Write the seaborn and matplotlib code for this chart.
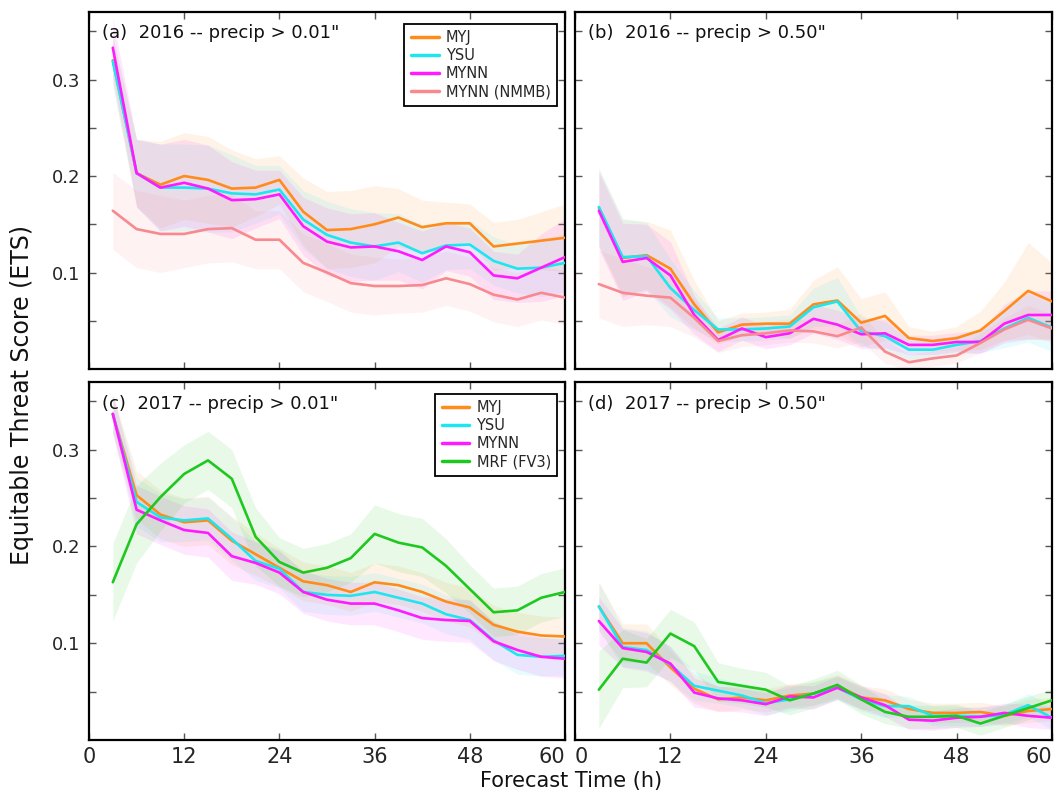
import numpy as np
import pandas as pd
import matplotlib
matplotlib.use("Agg")
import matplotlib.pyplot as plt
import seaborn as sns

# Forecast hours (every 3 h out to 60 h)
hours = list(range(3, 61, 3))

# ---- (a) 2016, precip > 0.01" ----
a_myj  = [0.320, 0.203, 0.191, 0.200, 0.196, 0.187, 0.188, 0.196, 0.163, 0.144,
          0.145, 0.150, 0.157, 0.147, 0.151, 0.151, 0.127, 0.130, 0.133, 0.136]
a_ysu  = [0.319, 0.203, 0.188, 0.188, 0.187, 0.182, 0.181, 0.186, 0.155, 0.139,
          0.131, 0.127, 0.131, 0.120, 0.128, 0.129, 0.112, 0.104, 0.105, 0.110]
a_mynn = [0.333, 0.203, 0.188, 0.193, 0.187, 0.175, 0.176, 0.181, 0.148, 0.132,
          0.126, 0.127, 0.122, 0.113, 0.127, 0.121, 0.097, 0.094, 0.105, 0.116]
a_nmmb = [0.164, 0.145, 0.140, 0.140, 0.145, 0.146, 0.134, 0.134, 0.110, 0.100,
          0.089, 0.086, 0.086, 0.087, 0.094, 0.088, 0.077, 0.072, 0.079, 0.074]
# spread (half-width of shaded range)
a_myj_sd  = [0.025, 0.035, 0.045, 0.045, 0.045, 0.040, 0.030, 0.025, 0.035, 0.040,
             0.040, 0.040, 0.030, 0.028, 0.022, 0.020, 0.025, 0.025, 0.030, 0.035]
a_ysu_sd  = [0.025, 0.035, 0.045, 0.045, 0.045, 0.040, 0.030, 0.025, 0.030, 0.035,
             0.035, 0.035, 0.030, 0.030, 0.025, 0.025, 0.025, 0.025, 0.030, 0.030]
a_mynn_sd = [0.030, 0.035, 0.045, 0.045, 0.045, 0.040, 0.030, 0.025, 0.030, 0.035,
             0.035, 0.035, 0.030, 0.030, 0.025, 0.025, 0.025, 0.025, 0.035, 0.040]
a_nmmb_sd = [0.040, 0.040, 0.040, 0.035, 0.035, 0.035, 0.030, 0.030, 0.030, 0.030,
             0.030, 0.030, 0.028, 0.028, 0.028, 0.028, 0.028, 0.028, 0.028, 0.028]

# ---- (b) 2016, precip > 0.50" ----
b_myj  = [0.167, 0.115, 0.118, 0.104, 0.067, 0.038, 0.046, 0.047, 0.047, 0.067,
          0.071, 0.048, 0.055, 0.032, 0.029, 0.032, 0.040, 0.060, 0.081, 0.070]
b_ysu  = [0.168, 0.116, 0.117, 0.084, 0.061, 0.041, 0.041, 0.042, 0.044, 0.064,
          0.070, 0.039, 0.034, 0.020, 0.020, 0.025, 0.029, 0.042, 0.053, 0.043]
b_mynn = [0.164, 0.111, 0.115, 0.097, 0.056, 0.030, 0.042, 0.033, 0.037, 0.052,
          0.046, 0.036, 0.037, 0.025, 0.025, 0.028, 0.028, 0.047, 0.056, 0.056]
b_nmmb = [0.088, 0.079, 0.076, 0.074, 0.053, 0.029, 0.035, 0.037, 0.040, 0.039,
          0.034, 0.043, 0.018, 0.007, 0.011, 0.014, 0.027, 0.041, 0.051, 0.042]
b_myj_sd  = [0.040, 0.040, 0.035, 0.040, 0.025, 0.012, 0.012, 0.012, 0.015, 0.025,
             0.035, 0.025, 0.025, 0.012, 0.010, 0.012, 0.020, 0.030, 0.050, 0.040]
b_ysu_sd  = [0.040, 0.040, 0.035, 0.030, 0.020, 0.012, 0.012, 0.012, 0.012, 0.020,
             0.025, 0.015, 0.015, 0.010, 0.010, 0.010, 0.012, 0.020, 0.025, 0.025]
b_mynn_sd = [0.040, 0.040, 0.035, 0.035, 0.020, 0.012, 0.012, 0.012, 0.012, 0.015,
             0.015, 0.015, 0.015, 0.010, 0.010, 0.010, 0.012, 0.020, 0.025, 0.025]
b_nmmb_sd = [0.035, 0.035, 0.030, 0.030, 0.020, 0.012, 0.012, 0.012, 0.012, 0.012,
             0.012, 0.015, 0.012, 0.008, 0.008, 0.008, 0.010, 0.012, 0.015, 0.015]

# ---- (c) 2017, precip > 0.01" ----
c_myj  = [0.337, 0.253, 0.233, 0.225, 0.227, 0.206, 0.192, 0.178, 0.164, 0.160,
          0.153, 0.163, 0.160, 0.153, 0.143, 0.137, 0.119, 0.112, 0.108, 0.107]
c_ysu  = [0.337, 0.246, 0.230, 0.227, 0.229, 0.208, 0.185, 0.177, 0.153, 0.150,
          0.149, 0.153, 0.147, 0.141, 0.130, 0.124, 0.103, 0.088, 0.086, 0.087]
c_mynn = [0.337, 0.238, 0.227, 0.217, 0.214, 0.190, 0.183, 0.173, 0.153, 0.145,
          0.141, 0.141, 0.134, 0.126, 0.124, 0.123, 0.102, 0.093, 0.086, 0.084]
c_mrf  = [0.163, 0.223, 0.251, 0.275, 0.289, 0.270, 0.210, 0.184, 0.173, 0.178,
          0.188, 0.213, 0.204, 0.199, 0.180, 0.156, 0.132, 0.134, 0.147, 0.153]
c_myj_sd  = [0.020, 0.025, 0.025, 0.025, 0.025, 0.025, 0.022, 0.020, 0.020, 0.020,
             0.020, 0.020, 0.020, 0.020, 0.020, 0.020, 0.020, 0.020, 0.020, 0.020]
c_ysu_sd  = [0.020, 0.025, 0.025, 0.022, 0.022, 0.022, 0.020, 0.020, 0.020, 0.020,
             0.020, 0.020, 0.020, 0.020, 0.020, 0.020, 0.020, 0.020, 0.020, 0.020]
c_mynn_sd = [0.020, 0.025, 0.025, 0.025, 0.025, 0.025, 0.022, 0.022, 0.022, 0.022,
             0.022, 0.022, 0.022, 0.022, 0.022, 0.022, 0.020, 0.020, 0.020, 0.020]
c_mrf_sd  = [0.040, 0.040, 0.035, 0.030, 0.030, 0.030, 0.030, 0.025, 0.025, 0.025,
             0.025, 0.030, 0.030, 0.030, 0.028, 0.025, 0.025, 0.025, 0.025, 0.025]

# ---- (d) 2017, precip > 0.50" ----
d_myj  = [0.138, 0.100, 0.100, 0.075, 0.053, 0.042, 0.044, 0.041, 0.046, 0.048,
          0.056, 0.044, 0.041, 0.032, 0.028, 0.028, 0.029, 0.025, 0.030, 0.032]
d_ysu  = [0.138, 0.096, 0.093, 0.078, 0.056, 0.051, 0.046, 0.038, 0.042, 0.048,
          0.054, 0.042, 0.035, 0.035, 0.025, 0.025, 0.024, 0.026, 0.036, 0.023]
d_mynn = [0.123, 0.095, 0.091, 0.079, 0.049, 0.043, 0.041, 0.037, 0.045, 0.044,
          0.054, 0.044, 0.036, 0.021, 0.020, 0.023, 0.024, 0.028, 0.025, 0.023]
d_mrf  = [0.052, 0.084, 0.080, 0.110, 0.097, 0.060, 0.056, 0.052, 0.041, 0.048,
          0.057, 0.042, 0.029, 0.024, 0.024, 0.025, 0.017, 0.025, 0.033, 0.041]
d_myj_sd  = [0.025, 0.020, 0.020, 0.018, 0.015, 0.013, 0.012, 0.012, 0.012, 0.012,
             0.012, 0.012, 0.012, 0.010, 0.010, 0.010, 0.010, 0.010, 0.012, 0.012]
d_ysu_sd  = [0.025, 0.020, 0.020, 0.018, 0.015, 0.013, 0.012, 0.012, 0.012, 0.012,
             0.012, 0.012, 0.012, 0.010, 0.010, 0.010, 0.010, 0.010, 0.012, 0.012]
d_mynn_sd = [0.025, 0.020, 0.020, 0.018, 0.015, 0.013, 0.012, 0.012, 0.012, 0.012,
             0.012, 0.012, 0.012, 0.010, 0.010, 0.010, 0.010, 0.010, 0.012, 0.012]
d_mrf_sd  = [0.040, 0.030, 0.025, 0.025, 0.025, 0.020, 0.018, 0.018, 0.015, 0.015,
             0.015, 0.015, 0.012, 0.012, 0.012, 0.012, 0.012, 0.012, 0.012, 0.012]

panel_titles = ['(a)  2016 -- precip > 0.01"', '(b)  2016 -- precip > 0.50"',
                '(c)  2017 -- precip > 0.01"', '(d)  2017 -- precip > 0.50"']
names_2016 = ["MYJ", "YSU", "MYNN", "MYNN (NMMB)"]
names_2017 = ["MYJ", "YSU", "MYNN", "MRF (FV3)"]
x_ticks = [0, 12, 24, 36, 48, 60]
y_ticks = [0.05, 0.10, 0.15, 0.20, 0.25, 0.30, 0.35]
y_ticklabels = ["", "0.1", "", "0.2", "", "0.3", ""]

palette = {
    "MYJ": "#ff8c1a",
    "YSU": "#1ee6ee",
    "MYNN": "#ff1aff",
    "MYNN (NMMB)": "#f7898f",
    "MRF (FV3)": "#1ec81e",
}

panels = [
    dict(names=names_2016, vals=[a_myj, a_ysu, a_mynn, a_nmmb],
         sds=[a_myj_sd, a_ysu_sd, a_mynn_sd, a_nmmb_sd]),
    dict(names=names_2016, vals=[b_myj, b_ysu, b_mynn, b_nmmb],
         sds=[b_myj_sd, b_ysu_sd, b_mynn_sd, b_nmmb_sd]),
    dict(names=names_2017, vals=[c_myj, c_ysu, c_mynn, c_mrf],
         sds=[c_myj_sd, c_ysu_sd, c_mynn_sd, c_mrf_sd]),
    dict(names=names_2017, vals=[d_myj, d_ysu, d_mynn, d_mrf],
         sds=[d_myj_sd, d_ysu_sd, d_mynn_sd, d_mrf_sd]),
]

sns.set_style("ticks")
plt.rcParams["font.family"] = ["DejaVu Sans"]

W, H = 1054, 796
fig = plt.figure(figsize=(W / 100, H / 100), dpi=100)

# axes boxes in pixels: left, top, right, bottom
boxes = [(89, 12, 565, 369), (575, 12, 1052, 369),
         (89, 382, 565, 740), (575, 382, 1052, 740)]

for i, (panel, box) in enumerate(zip(panels, boxes)):
    l, t, r, b = box
    ax = fig.add_axes([l / W, 1 - b / H, (r - l) / W, (b - t) / H])

    rows = []
    for name, vals in zip(panel["names"], panel["vals"]):
        for h, v in zip(hours, vals):
            rows.append({"hour": h, "ets": v, "run": name})
    df = pd.DataFrame(rows)

    # shaded spread behind the lines
    for name, vals, sd in zip(panel["names"], panel["vals"], panel["sds"]):
        v = np.array(vals)
        s = np.array(sd)
        ax.fill_between(hours, v - s, v + s, color=palette[name],
                        alpha=0.10, linewidth=0, zorder=1)

    sns.lineplot(data=df, x="hour", y="ets", hue="run",
                 hue_order=panel["names"], palette=palette,
                 linewidth=1.9, legend=False, ax=ax, zorder=3)

    ax.set_xlim(0, 60)
    ax.set_ylim(0, 0.37)
    ax.set_xticks(x_ticks)
    ax.set_yticks(y_ticks)
    ax.set_xlabel("")
    ax.set_ylabel("")

    ax.tick_params(axis="both", which="both", direction="in", length=5,
                   width=1.0, top=True, right=True, color="#555555")
    ax.tick_params(axis="y", labelsize=13, pad=6)
    ax.tick_params(axis="x", labelsize=15, pad=5)

    if i % 2 == 0:
        ax.set_yticklabels(y_ticklabels)
    else:
        ax.set_yticklabels([])
    if i < 2:
        ax.set_xticklabels([])
    else:
        labels = ax.set_xticklabels([str(x) for x in x_ticks])
        # keep the end labels inside their own panel
        labels[-1].set_horizontalalignment("right")
        if i == 3:
            labels[0].set_horizontalalignment("left")

    for sp in ax.spines.values():
        sp.set_linewidth(1.6)
        sp.set_color("black")

    ax.text(0.028, 0.965, panel_titles[i], transform=ax.transAxes,
            ha="left", va="top", fontsize=13, color="#111111")

    if i in (0, 2):
        handles = ax.get_lines()[:len(panel["names"])]
        leg = ax.legend(handles, panel["names"], loc="upper right",
                        bbox_to_anchor=(0.99, 0.975), fontsize=10.5,
                        frameon=True, fancybox=False, framealpha=1,
                        edgecolor="black", handlelength=1.9,
                        handletextpad=0.5, labelspacing=0.2,
                        borderpad=0.45, borderaxespad=0.2)
        leg.get_frame().set_linewidth(1.3)
        for ln in leg.get_lines():
            ln.set_linewidth(2.5)

fig.text(22 / W, 1 - 395 / H, "Equitable Threat Score (ETS)", rotation=90,
         ha="center", va="center", fontsize=17, color="#111111")
fig.text(571 / W, 1 - 781 / H, "Forecast Time (h)", ha="center",
         va="center", fontsize=15, color="#111111")

fig.savefig("out.png", dpi=100)
